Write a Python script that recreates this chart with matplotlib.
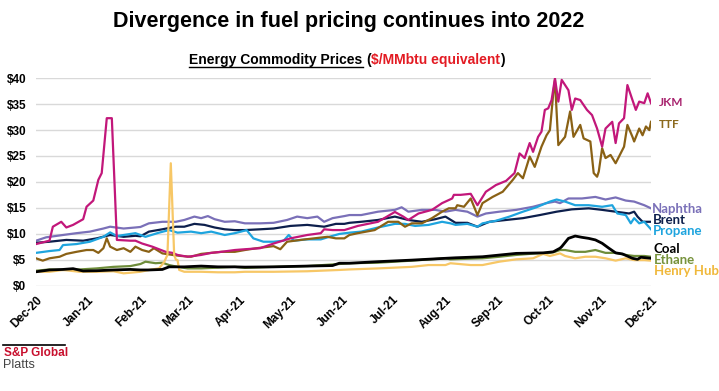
import numpy as np
import matplotlib
matplotlib.use('Agg')
import matplotlib.pyplot as plt
import matplotlib.dates as mdates
from matplotlib import font_manager as fm
from matplotlib.lines import Line2D

# ---------------- data (day offsets from 2020-12-01, $/MMbtu) ----------------
START = np.datetime64('2020-12-01')

jkm_days = [0, 8, 10, 15, 18, 22, 28, 30, 34, 37, 39, 42, 45, 48, 56, 59, 63, 69, 77, 81, 84, 90,
            98, 104, 110, 118, 124, 133, 141, 151, 161, 169, 171, 176, 183, 186, 191, 203, 213, 218,
            221, 227, 235, 241, 247, 248, 252, 258, 262, 267, 273, 279, 284, 287, 290, 293, 295, 298,
            300, 302, 304, 306, 308, 310, 312, 316, 318, 320, 323, 327, 330, 333, 336, 338, 342, 344,
            346, 349, 351, 354, 356, 358, 361, 363, 365]
jkm_vals = [8.0, 8.65, 11.35, 12.3, 11.2, 11.7, 12.8, 15.2, 16.4, 20.4, 21.7, 32.3, 32.3, 8.8, 8.65,
            8.65, 8.1, 7.5, 6.5, 6.3, 5.9, 5.55, 5.9, 6.3, 6.5, 6.85, 7.0, 7.2, 8.1, 9.1, 9.75, 10.1,
            10.85, 10.7, 10.7, 11.0, 11.5, 12.3, 14.2, 13.3, 12.65, 13.9, 14.6, 15.9, 16.8, 17.5, 17.5,
            17.7, 15.5, 18.1, 19.4, 20.2, 21.7, 25.5, 24.6, 27.5, 25.8, 28.7, 29.7, 33.9, 34.2, 35.8,
            40.0, 35.5, 39.7, 37.7, 33.9, 36.1, 35.8, 33.9, 32.9, 30.3, 26.8, 30.3, 31.6, 27.5, 31.3,
            32.3, 38.7, 35.8, 33.9, 35.5, 35.2, 37.1, 35.2]

ttf_days = [0, 4, 8, 14, 18, 24, 30, 34, 37, 40, 42, 44, 48, 52, 56, 59, 63, 67, 70, 75, 81, 86, 92,
            98, 104, 110, 118, 124, 131, 141, 145, 149, 157, 165, 173, 178, 183, 186, 191, 201, 209,
            215, 219, 223, 229, 235, 241, 245, 249, 250, 254, 258, 262, 265, 271, 277, 283, 286, 289,
            293, 296, 300, 303, 305, 307, 308, 310, 314, 317, 319, 323, 325, 329, 331, 333, 334, 336,
            338, 341, 344, 349, 351, 354, 355, 358, 360, 362, 364, 365]
ttf_vals = [5.25, 4.8, 5.25, 5.55, 6.1, 6.5, 6.85, 6.85, 6.3, 7.2, 9.1, 7.5, 6.85, 7.2, 6.5, 7.5, 6.85,
            6.5, 7.2, 6.2, 5.9, 5.7, 5.55, 6.1, 6.3, 6.5, 6.5, 6.85, 7.2, 7.6, 7.0, 8.45, 8.8, 9.1,
            9.4, 9.1, 9.1, 9.75, 10.1, 10.7, 12.3, 12.3, 11.35, 12.0, 12.0, 13.0, 14.25, 14.9, 14.9,
            15.5, 15.2, 16.8, 13.6, 15.9, 17.1, 18.1, 20.4, 21.7, 20.7, 24.9, 22.9, 26.8, 29.0, 30.0,
            37.1, 39.7, 27.1, 28.7, 33.6, 28.7, 31.0, 28.4, 27.8, 21.7, 21.0, 22.0, 26.5, 24.6, 25.2,
            23.6, 26.8, 31.0, 28.7, 27.8, 30.3, 29.0, 30.7, 30.0, 31.6]

naphtha_days = [0, 6, 16, 24, 32, 40, 44, 52, 59, 62, 67, 75, 83, 88, 94, 98, 102, 106, 112, 118,
                124, 133, 141, 149, 155, 161, 167, 171, 176, 183, 186, 193, 203, 213, 217, 221, 229,
                237, 243, 249, 256, 262, 267, 275, 285, 295, 303, 308, 311, 316, 324, 332, 338, 344,
                350, 355, 361, 365]
naphtha_vals = [8.65, 9.3, 9.75, 10.1, 10.4, 11.0, 11.35, 11.0, 11.2, 11.3, 12.0, 12.3, 12.3, 12.65,
                13.3, 13.0, 13.4, 12.8, 12.3, 12.4, 12.0, 12.0, 12.1, 12.65, 13.3, 13.0, 13.3, 12.3,
                13.0, 13.4, 13.6, 13.6, 14.25, 14.6, 15.1, 14.25, 14.6, 14.6, 14.25, 14.6, 14.25, 13.3,
                13.9, 14.25, 14.6, 15.2, 15.9, 16.2, 15.9, 16.8, 16.8, 17.1, 16.6, 17.0, 16.4, 16.2,
                15.5, 14.9]

brent_days = [0, 8, 18, 28, 36, 44, 52, 59, 62, 67, 75, 83, 88, 94, 100, 106, 112, 118, 124, 133,
              141, 151, 161, 171, 178, 183, 186, 193, 203, 213, 221, 229, 237, 243, 249, 256, 262,
              269, 279, 289, 299, 309, 318, 328, 336, 344, 352, 355, 357, 360, 365]
brent_vals = [8.25, 8.45, 8.8, 8.65, 9.1, 9.75, 9.4, 9.6, 9.5, 10.4, 10.85, 11.35, 11.35, 11.9, 11.7,
              11.2, 10.85, 10.7, 10.7, 10.85, 11.0, 11.5, 11.7, 11.35, 11.9, 11.9, 12.1, 12.3, 12.65,
              13.3, 12.65, 12.3, 12.8, 13.3, 12.1, 12.1, 11.35, 12.3, 12.65, 13.0, 13.6, 14.25, 14.7,
              14.9, 14.6, 14.25, 13.9, 14.25, 13.3, 12.3, 12.3]

propane_days = [0, 8, 14, 16, 24, 32, 40, 44, 48, 56, 59, 65, 73, 79, 84, 92, 98, 104, 112, 118,
                124, 125, 129, 135, 141, 147, 150, 153, 161, 169, 174, 180, 186, 193, 203, 213, 219,
                225, 233, 241, 246, 249, 256, 262, 265, 273, 281, 289, 297, 305, 309, 314, 320, 328,
                336, 342, 345, 350, 353, 355, 358, 361, 365]
propane_vals = [6.3, 6.65, 6.85, 7.8, 8.0, 8.45, 9.4, 10.25, 9.55, 9.95, 10.1, 9.4, 10.2, 10.7, 10.2,
                10.4, 10.1, 10.4, 9.75, 10.1, 10.6, 10.7, 9.1, 8.45, 8.45, 8.65, 9.75, 8.65, 8.9, 8.9,
                9.4, 9.95, 10.2, 10.4, 11.2, 11.9, 11.9, 11.5, 11.7, 12.3, 12.0, 11.7, 11.9, 11.35,
                12.0, 12.5, 13.3, 14.25, 15.1, 16.2, 16.6, 16.2, 15.5, 15.5, 15.2, 15.5, 13.9, 13.6,
                12.0, 13.0, 12.0, 12.3, 10.85]

coal_days = [0, 8, 16, 22, 28, 36, 46, 56, 62, 67, 75, 79, 88, 98, 108, 118, 124, 141, 161, 176, 180,
             186, 203, 223, 243, 249, 265, 285, 301, 307, 311, 312, 316, 320, 324, 328, 332, 336, 340,
             344, 348, 354, 357, 359, 365]
coal_vals = [2.65, 3.0, 3.1, 3.25, 2.8, 2.85, 3.0, 3.1, 3.0, 3.0, 3.1, 3.6, 3.6, 3.75, 3.6, 3.6, 3.55,
             3.6, 3.75, 3.85, 4.3, 4.3, 4.6, 4.9, 5.25, 5.35, 5.55, 6.2, 6.3, 6.5, 7.2, 7.5, 9.1, 9.55,
             9.3, 9.1, 8.8, 8.15, 7.2, 6.3, 6.1, 5.25, 5.05, 5.45, 5.25]

ethane_days = [0, 8, 16, 26, 36, 46, 56, 59, 62, 65, 71, 75, 79, 84, 90, 98, 108, 118, 124, 141, 161,
               180, 186, 203, 223, 243, 246, 265, 275, 285, 297, 305, 308, 311, 314, 320, 326, 332,
               338, 344, 350, 355, 361, 365]
ethane_vals = [2.85, 3.1, 3.0, 3.1, 3.3, 3.6, 3.75, 3.95, 4.15, 4.6, 4.3, 4.4, 3.95, 3.6, 3.3, 3.3,
               3.45, 3.6, 3.4, 3.6, 3.75, 4.15, 4.3, 4.4, 4.8, 5.25, 5.05, 5.25, 5.55, 5.9, 6.2, 6.3,
               6.5, 6.85, 6.85, 6.5, 6.5, 6.85, 6.3, 6.3, 5.9, 5.7, 5.7, 5.55]

hh_days = [0, 8, 16, 26, 36, 46, 52, 62, 67, 73, 76, 78, 80, 82, 83, 84, 85, 88, 98, 108, 118, 124,
           141, 161, 180, 186, 203, 223, 233, 243, 246, 258, 265, 275, 285, 295, 301, 305, 311, 314,
           320, 326, 332, 338, 344, 350, 355, 361, 365]
hh_vals = [2.65, 2.65, 3.0, 2.65, 2.65, 2.75, 2.35, 2.65, 3.0, 3.3, 4.5, 5.9, 23.6, 5.9, 5.0, 4.9,
           3.0, 2.65, 2.65, 2.55, 2.55, 2.65, 2.65, 2.75, 3.0, 3.1, 3.3, 3.6, 3.95, 3.95, 4.3, 3.95,
           3.95, 4.6, 5.05, 5.25, 6.1, 5.7, 6.2, 5.7, 5.25, 5.55, 5.55, 5.25, 4.8, 5.25, 4.9, 4.9, 4.8]

series_names = ['Naphtha', 'Brent', 'Propane', 'TTF', 'JKM', 'Ethane', 'Henry Hub', 'Coal']
series_data = {
    'JKM': (jkm_days, jkm_vals), 'TTF': (ttf_days, ttf_vals),
    'Naphtha': (naphtha_days, naphtha_vals), 'Brent': (brent_days, brent_vals),
    'Propane': (propane_days, propane_vals), 'Coal': (coal_days, coal_vals),
    'Ethane': (ethane_days, ethane_vals), 'Henry Hub': (hh_days, hh_vals),
}
month_ticks = ['2020-12-01', '2021-01-01', '2021-02-01', '2021-03-01', '2021-04-01', '2021-05-01',
               '2021-06-01', '2021-07-01', '2021-08-01', '2021-09-01', '2021-10-01', '2021-11-01',
               '2021-12-01']

# ---------------- styles ----------------
colors = {'JKM': '#C2177A', 'TTF': '#8A6115', 'Naphtha': '#7A70B8', 'Brent': '#0D1F4C',
          'Propane': '#1EA4DE', 'Coal': '#000000', 'Ethane': '#6E8C3A', 'Henry Hub': '#F7C766'}
label_colors = {'JKM': '#A8236E', 'TTF': '#8C6A1E', 'Naphtha': '#7A70B8', 'Brent': '#0D1F4C',
                'Propane': '#1EA4DE', 'Coal': '#000000', 'Ethane': '#77933C', 'Henry Hub': '#F0B83A'}
widths = {'Coal': 2.0}
# label anchor positions in figure pixels (left x, centre y, size)
label_pos = {'JKM': (659, 103, 8.5), 'TTF': (659, 125, 8.5), 'Naphtha': (652, 209, 9.5),
             'Brent': (653, 220, 9.5), 'Propane': (653, 231, 9.5), 'Coal': (654, 249, 9.5),
             'Ethane': (654, 260, 9.5), 'Henry Hub': (654, 271, 9.5)}


def has_font(name):
    try:
        fm.findfont(fm.FontProperties(family=name), fallback_to_default=False)
        return True
    except Exception:
        return False


ARIAL = 'Liberation Sans'
LAB = 'Lato' if has_font('Lato') else 'DejaVu Sans'

W, H = 719, 391
fig = plt.figure(figsize=(W / 100, H / 100), dpi=100)
fig.patch.set_facecolor('white')
ax = fig.add_axes([36 / W, 1 - 285.5 / H, 615 / W, (285.5 - 78.3) / H])

for name in series_names:
    d, v = series_data[name]
    dates = START + np.array(d, dtype='timedelta64[D]')
    ax.plot(dates, v, color=colors[name], lw=widths.get(name, 1.6), solid_joinstyle='round',
            zorder=3)

ax.set_ylim(0, 40)
ax.set_xlim(np.datetime64('2020-12-01'), np.datetime64('2021-12-01'))
ax.set_yticks(np.arange(0, 41, 5))
ax.set_yticklabels(['$%d' % t for t in range(0, 41, 5)], fontfamily=ARIAL, fontweight='bold',
                   fontsize=8.5)
ticks = [np.datetime64(t) for t in month_ticks]
ax.set_xticks(ticks)
ax.xaxis.set_major_formatter(mdates.DateFormatter('%b-%y'))
for lab in ax.get_xticklabels():
    lab.set_rotation(45)
    lab.set_ha('right')
    lab.set_rotation_mode('anchor')
    lab.set_fontfamily(ARIAL)
    lab.set_fontweight('bold')
    lab.set_fontsize(8.5)
ax.tick_params(axis='both', length=0)
ax.tick_params(axis='y', pad=7)
ax.tick_params(axis='x', pad=6)
ax.grid(axis='y', color='#D9D9D9', lw=1.0, zorder=0)
ax.grid(axis='x', visible=False)
for s in ax.spines.values():
    s.set_visible(False)
ax.set_facecolor('white')

# right-hand labels
for name, (px, py, fs) in label_pos.items():
    fig.text(px / W, 1 - py / H, name, color=label_colors[name], fontfamily=LAB,
             fontweight='bold', fontsize=fs, ha='left', va='center')

# title
fig.text(349 / W, 1 - 21 / H, 'Divergence in fuel pricing continues into 2022', ha='center',
         va='center', fontfamily=ARIAL, fontweight='bold', fontsize=15.5, color='black')

# subtitle with underline and red part
pieces = [('Energy Commodity Prices', 'black', 0), ('(', 'black', 4), ('$/MMbtu equivalent', '#E31B23', 0),
          (')', 'black', 0)]
renderer = fig.canvas.get_renderer()
texts = []
total = 0
for s, c, gap in pieces:
    t = fig.text(0, 1 - 60 / H, s, color=c, fontfamily=ARIAL, fontweight='bold', fontsize=10,
                 ha='left', va='center')
    w = t.get_window_extent(renderer).width
    texts.append((t, w, gap))
    total += w + gap
x = 347 - total / 2
ul = None
for i, (t, w, gap) in enumerate(texts):
    x += gap
    t.set_x(x / W)
    if i == 0:
        ul = (x, x + w)
    x += w
fig.add_artist(Line2D([ul[0] / W, ul[1] / W], [1 - 66.5 / H, 1 - 66.5 / H], color='black', lw=1.0))

# logo
fig.add_artist(Line2D([3 / W, 65 / W], [1 - 345 / H, 1 - 345 / H], color='black', lw=1.2))
fig.text(4 / W, 1 - 353 / H, 'S&P Global', color='#C8102E', fontfamily=ARIAL,
         fontweight='bold', fontsize=8.5, ha='left', va='center')
fig.text(3 / W, 1 - 365 / H, 'Platts', color='#444444', fontfamily=ARIAL, fontsize=9,
         ha='left', va='center')

fig.savefig('out.png', dpi=100, facecolor='white')
